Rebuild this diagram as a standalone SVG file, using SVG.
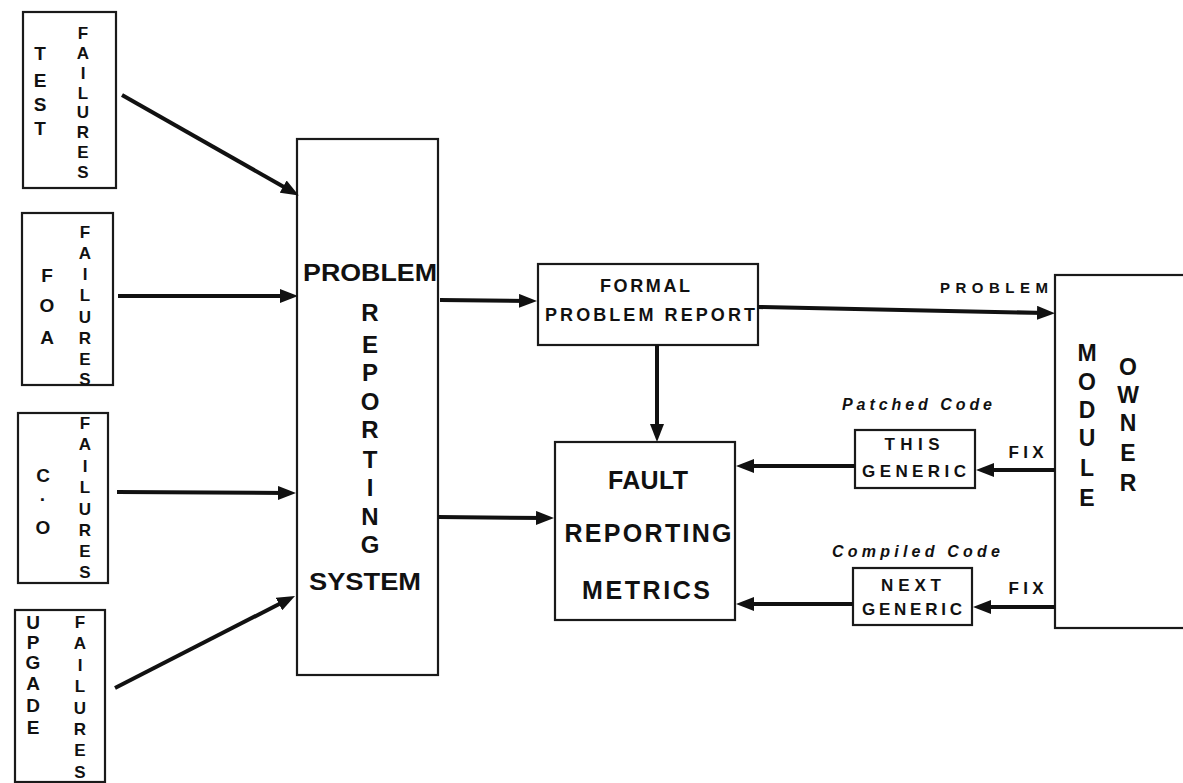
<svg xmlns="http://www.w3.org/2000/svg" width="1183" height="783" viewBox="0 0 1183 783">
<style>
.box{fill:#fff;stroke:#1a1a1a;stroke-width:2.2}
.t{font-family:"Liberation Sans",Arial,sans-serif;font-weight:bold;fill:#111;text-anchor:middle}
.v17{font-size:17px}
.v19{font-size:19px}
.v22{font-size:23px}
.v23{font-size:24px}
.it{font-style:italic}
.c{stroke:#111;stroke-width:4;fill:none}
</style>
<defs>
<marker id="ah" viewBox="0 0 18 14" refX="9" refY="7" markerWidth="18" markerHeight="14" markerUnits="userSpaceOnUse" orient="auto">
<path d="M0,0 L18,7 L0,14 z" fill="#111"/>
</marker>
</defs>
<rect width="1183" height="783" fill="#fff"/>

<g id="test-failures">
<rect class="box" x="23" y="12" width="93" height="176"/>
<text class="t v19"><tspan x="40" y="60">T</tspan><tspan x="40" y="87">E</tspan><tspan x="40" y="111">S</tspan><tspan x="40" y="135">T</tspan></text>
<text class="t v17"><tspan x="83" y="39">F</tspan><tspan x="83" y="59">A</tspan><tspan x="83" y="79">I</tspan><tspan x="83" y="99">L</tspan><tspan x="83" y="118">U</tspan><tspan x="83" y="138">R</tspan><tspan x="83" y="158">E</tspan><tspan x="83" y="178">S</tspan></text>
</g>

<g id="foa-failures">
<rect class="box" x="22" y="213" width="91" height="172"/>
<text class="t v19"><tspan x="47" y="282">F</tspan><tspan x="47" y="312">O</tspan><tspan x="47" y="344">A</tspan></text>
<text class="t v17"><tspan x="85" y="238">F</tspan><tspan x="85" y="259">A</tspan><tspan x="85" y="280">I</tspan><tspan x="85" y="301">L</tspan><tspan x="85" y="323">U</tspan><tspan x="85" y="344">R</tspan><tspan x="85" y="365">E</tspan><tspan x="85" y="385">S</tspan></text>
</g>

<g id="co-failures">
<rect class="box" x="18" y="413" width="90" height="170"/>
<text class="t v19"><tspan x="43" y="482">C</tspan><tspan x="43" y="506">·</tspan><tspan x="43" y="534">O</tspan></text>
<text class="t v17"><tspan x="85" y="429">F</tspan><tspan x="85" y="450">A</tspan><tspan x="85" y="472">I</tspan><tspan x="85" y="493">L</tspan><tspan x="85" y="515">U</tspan><tspan x="85" y="536">R</tspan><tspan x="85" y="557">E</tspan><tspan x="85" y="578">S</tspan></text>
</g>

<g id="upgade-failures">
<rect class="box" x="15" y="610" width="90" height="172"/>
<text class="t v19"><tspan x="33" y="629">U</tspan><tspan x="33" y="649">P</tspan><tspan x="33" y="669">G</tspan><tspan x="33" y="690">A</tspan><tspan x="33" y="712">D</tspan><tspan x="33" y="734">E</tspan></text>
<text class="t v17"><tspan x="80" y="628">F</tspan><tspan x="80" y="649">A</tspan><tspan x="80" y="671">I</tspan><tspan x="80" y="692">L</tspan><tspan x="80" y="714">U</tspan><tspan x="80" y="735">R</tspan><tspan x="80" y="756">E</tspan><tspan x="80" y="778">S</tspan></text>
</g>

<g id="problem-reporting-system">
<rect class="box" x="297" y="139" width="141" height="536"/>
<text class="t" font-size="24" x="370" y="281" textLength="134" lengthAdjust="spacingAndGlyphs">PROBLEM</text>
<text class="t v23"><tspan x="370" y="321">R</tspan><tspan x="370" y="353">E</tspan><tspan x="370" y="381">P</tspan><tspan x="370" y="410">O</tspan><tspan x="370" y="438">R</tspan><tspan x="370" y="468">T</tspan><tspan x="370" y="496">I</tspan><tspan x="370" y="525">N</tspan><tspan x="370" y="553">G</tspan></text>
<text class="t" font-size="24" x="365" y="590" textLength="112" lengthAdjust="spacingAndGlyphs">SYSTEM</text>
</g>

<g id="formal-problem-report">
<rect class="box" x="538" y="264" width="220" height="81"/>
<text class="t" font-size="18" x="645" y="292" textLength="90">FORMAL</text>
<text class="t" font-size="18" x="650" y="321" textLength="210">PROBLEM REPORT</text>
</g>

<g id="fault-reporting-metrics">
<rect class="box" x="555" y="442" width="180" height="178"/>
<text class="t" font-size="25" x="648" y="489" textLength="80">FAULT</text>
<text class="t" font-size="25" x="648" y="542" textLength="167">REPORTING</text>
<text class="t" font-size="25" x="646" y="599" textLength="128">METRICS</text>
</g>

<g id="this-generic">
<text class="t it" font-size="16" x="917" y="410" textLength="150">Patched Code</text>
<rect class="box" x="855" y="430" width="120" height="58"/>
<text class="t" font-size="17" x="912" y="450" textLength="55">THIS</text>
<text class="t" font-size="17" x="914" y="477" textLength="104">GENERIC</text>
</g>

<g id="next-generic">
<text class="t it" font-size="16" x="916" y="557" textLength="168">Compiled Code</text>
<rect class="box" x="853" y="568" width="119" height="57"/>
<text class="t" font-size="17" x="911" y="591" textLength="60">NEXT</text>
<text class="t" font-size="17" x="912" y="615" textLength="100">GENERIC</text>
</g>

<g id="module-owner">
<rect class="box" x="1055" y="275" width="150" height="353"/>
<text class="t v22"><tspan x="1087" y="361">M</tspan><tspan x="1087" y="390">O</tspan><tspan x="1087" y="418">D</tspan><tspan x="1087" y="446">U</tspan><tspan x="1087" y="476">L</tspan><tspan x="1087" y="506">E</tspan></text>
<text class="t v22"><tspan x="1128" y="375">O</tspan><tspan x="1128" y="403">W</tspan><tspan x="1128" y="431">N</tspan><tspan x="1128" y="461">E</tspan><tspan x="1128" y="491">R</tspan></text>
</g>

<g id="connectors">
<line class="c" x1="122" y1="95" x2="291" y2="191" marker-end="url(#ah)"/>
<line class="c" x1="118" y1="296" x2="289" y2="296" marker-end="url(#ah)"/>
<line class="c" x1="117" y1="492" x2="287" y2="493" marker-end="url(#ah)"/>
<line class="c" x1="115" y1="688" x2="287" y2="600" marker-end="url(#ah)"/>
<line class="c" x1="440" y1="300" x2="528" y2="301" marker-end="url(#ah)"/>
<line class="c" x1="438" y1="517" x2="545" y2="518" marker-end="url(#ah)"/>
<line class="c" x1="657" y1="345" x2="657" y2="433" marker-end="url(#ah)"/>
<line class="c" x1="758" y1="307" x2="1046" y2="313" marker-end="url(#ah)"/>
<line class="c" x1="1055" y1="470" x2="985" y2="470" marker-end="url(#ah)"/>
<line class="c" x1="855" y1="466" x2="745" y2="466" marker-end="url(#ah)"/>
<line class="c" x1="1055" y1="607" x2="982" y2="607" marker-end="url(#ah)"/>
<line class="c" x1="853" y1="604" x2="745" y2="604" marker-end="url(#ah)"/>
<text class="t" font-size="15" x="994" y="293" textLength="108">PROBLEM</text>
<text class="t" font-size="17" x="1026" y="458" textLength="35">FIX</text>
<text class="t" font-size="17" x="1026" y="594" textLength="35">FIX</text>
</g>
</svg>
